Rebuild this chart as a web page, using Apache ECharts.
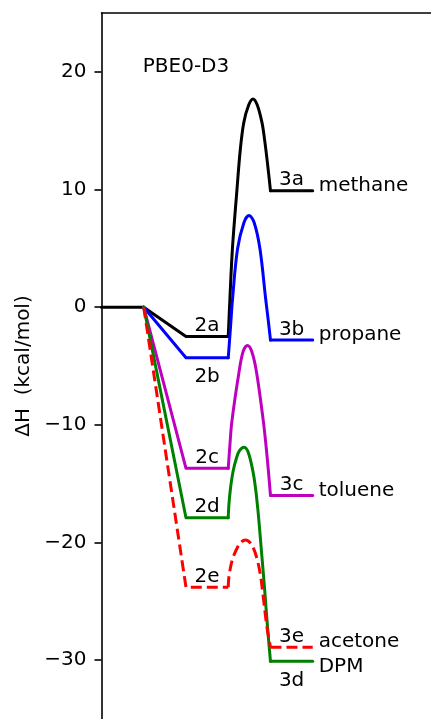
<!DOCTYPE html>
<html>
<head>
<meta charset="utf-8">
<script src="https://cdn.jsdelivr.net/npm/echarts@6/dist/echarts.min.js"></script>
<style>
html,body{margin:0;padding:0;background:#ffffff;}
#c{width:431px;height:719px;}
</style>
</head>
<body>
<div id="c"></div>
<script>
// ---- data ----
const stageX = [0, 1, 2, 3, 4, 5];           // reactant [0,1], intermediate [2,3], product [4,5]
const reactantE = 0;
const speciesNames = ['methane', 'propane', 'toluene', 'DPM', 'acetone'];
const intermediateLabels = ['2a', '2b', '2c', '2d', '2e'];
const productLabels = ['3a', '3b', '3c', '3d', '3e'];
const intermediateE = [-2.5, -4.3, -13.7, -17.9, -23.8];
const productE = [9.9, -2.8, -16.0, -30.1, -28.9];
// transition-state curves, points
const tsA_x = [3, 3.04, 3.099, 3.204, 3.286, 3.369, 3.486, 3.587, 3.685, 3.798, 3.862, 3.93, 4];
const tsA_y = [-2.5, 0.74, 4.96, 9.87, 13.4, 15.7, 17.2, 17.7, 17.2, 15.7, 14.2, 12.2, 9.9];
const tsB_x = [3, 3.05, 3.103, 3.221, 3.373, 3.493, 3.613, 3.751, 3.885, 3.95, 4];
const tsB_y = [-4.3, -1.9, 0.74, 4.96, 7.2, 7.78, 7.2, 4.96, 0.74, -1.2, -2.8];
const tsC_x = [3, 3.04, 3.087, 3.258, 3.355, 3.455, 3.555, 3.667, 3.831, 3.92, 4];
const tsC_y = [-13.7, -11.7, -9.69, -5.46, -3.75, -3.26, -3.75, -5.46, -9.69, -12.7, -16.0];
const tsD_x = [3, 3.017, 3.056, 3.118, 3.197, 3.267, 3.369, 3.47, 3.587, 3.65, 3.69, 3.72, 3.76, 3.86, 3.93, 4];
const tsD_y = [-17.9, -16.74, -15.33, -13.9, -12.8, -12.2, -11.9, -12.3, -14.0, -15.5, -16.8, -17.9, -19.6, -23.9, -27.2, -30.1];
const tsE_x = [3, 3.016, 3.094, 3.22, 3.31, 3.408, 3.5, 3.587, 3.69, 3.77, 3.82, 3.915, 4];
const tsE_y = [-23.8, -22.93, -21.5, -20.4, -19.95, -19.78, -19.95, -20.4, -21.5, -22.93, -24.35, -27.16, -28.9];
const yTicks = [-30, -20, -10, 0, 10, 20];
const methodLabel = 'PBE0-D3';
const yName = 'ΔH  (kcal/mol)';

// ---- styling ----
const FONT = 'DejaVu Sans';
const colors = ['#000000', '#0000ff', '#bf00bf', '#008000', '#ff0000'];
const dashedFlags = [false, false, false, false, true];
const tsX = [tsA_x, tsB_x, tsC_x, tsD_x, tsE_x];
const tsY = [tsA_y, tsB_y, tsC_y, tsD_y, tsE_y];

const series = [];
function lineSeries(data, color, dashed, smooth, z) {
  return {
    type: 'line', data: data, smooth: smooth, symbol: 'none', showSymbol: false,
    animation: false, silent: true, z: z,
    emphasis: { disabled: true },
    lineStyle: { color: color, width: 3, type: dashed ? [11, 5] : 'solid',
                 cap: dashed ? 'butt' : 'round', join: 'round' }
  };
}
series.push(lineSeries([[stageX[0], reactantE], [stageX[1], reactantE]], '#000000', false, false, 2));
for (let i = 0; i < 5; i++) {
  const c = colors[i], d = dashedFlags[i];
  series.push(lineSeries([[stageX[1], reactantE], [stageX[2], intermediateE[i]], [stageX[3], intermediateE[i]]], c, d, false, 3 + i));
  series.push(lineSeries(tsX[i].map((x, j) => [x, tsY[i][j]]), c, d, 0.35, 3 + i));
  series.push(lineSeries([[stageX[4], productE[i]], [stageX[5], productE[i]]], c, d, false, 3 + i));
}

// text labels anchored on data coordinates
const labelData = [];
function lab(x, y, text, align, offset) {
  labelData.push({ value: [x, y], label: { formatter: text, align: align, verticalAlign: 'middle', offset: offset } });
}
const belowInter = [false, true, false, false, false];
const belowProd = [false, false, false, true, false];
for (let i = 0; i < 5; i++) {
  const xi = (stageX[2] + stageX[3]) / 2;
  const xp = (stageX[4] + stageX[5]) / 2;
  lab(xi, intermediateE[i], intermediateLabels[i], 'center', belowInter[i] ? [0, 19.5] : [0, -10.5]);
  lab(xp, productE[i], productLabels[i], 'center', belowProd[i] ? [0, 19.5] : [0, -10.5]);
  lab(stageX[5], productE[i], speciesNames[i], 'left', speciesNames[i] === 'DPM' ? [6, 5.5] : [6, -5]);
}
lab(stageX[1], 20, methodLabel, 'left', [-1, -5.5]);

series.push({
  type: 'scatter', data: labelData, symbolSize: 1, silent: true, animation: false, z: 20,
  itemStyle: { color: 'transparent', opacity: 1 },
  emphasis: { disabled: true },
  label: { show: true, position: 'inside', fontFamily: FONT, fontSize: 20, color: '#000000', opacity: 1 }
});

const chart = echarts.init(document.getElementById('c'), null, { renderer: 'canvas' });
chart.setOption({
  animation: false,
  backgroundColor: '#ffffff',
  grid: { left: 101.5, top: 13, width: 332.3, height: 710, containLabel: false },
  xAxis: {
    type: 'value', min: 0, max: 7.8, position: 'top',
    axisLine: { show: true, onZero: false, lineStyle: { color: '#000000', width: 1.6 } },
    axisTick: { show: false }, axisLabel: { show: false }, splitLine: { show: false }
  },
  yAxis: {
    type: 'value', min: -35, max: 25,
    name: yName, nameLocation: 'middle', nameGap: 66,
    nameTextStyle: { fontFamily: FONT, fontSize: 20, color: '#000000' },
    axisLine: { show: true, onZero: false, lineStyle: { color: '#000000', width: 1.6 } },
    axisTick: { show: true, length: 7, lineStyle: { color: '#000000', width: 1.6 }, customValues: yTicks },
    axisLabel: { show: true, margin: 15, fontFamily: FONT, fontSize: 20, color: '#000000', customValues: yTicks,
      formatter: function (v) { return v < 0 ? '\u2212' + Math.abs(v) : String(v); } },
    splitLine: { show: false }
  },
  series: series
});
</script>
</body>
</html>
